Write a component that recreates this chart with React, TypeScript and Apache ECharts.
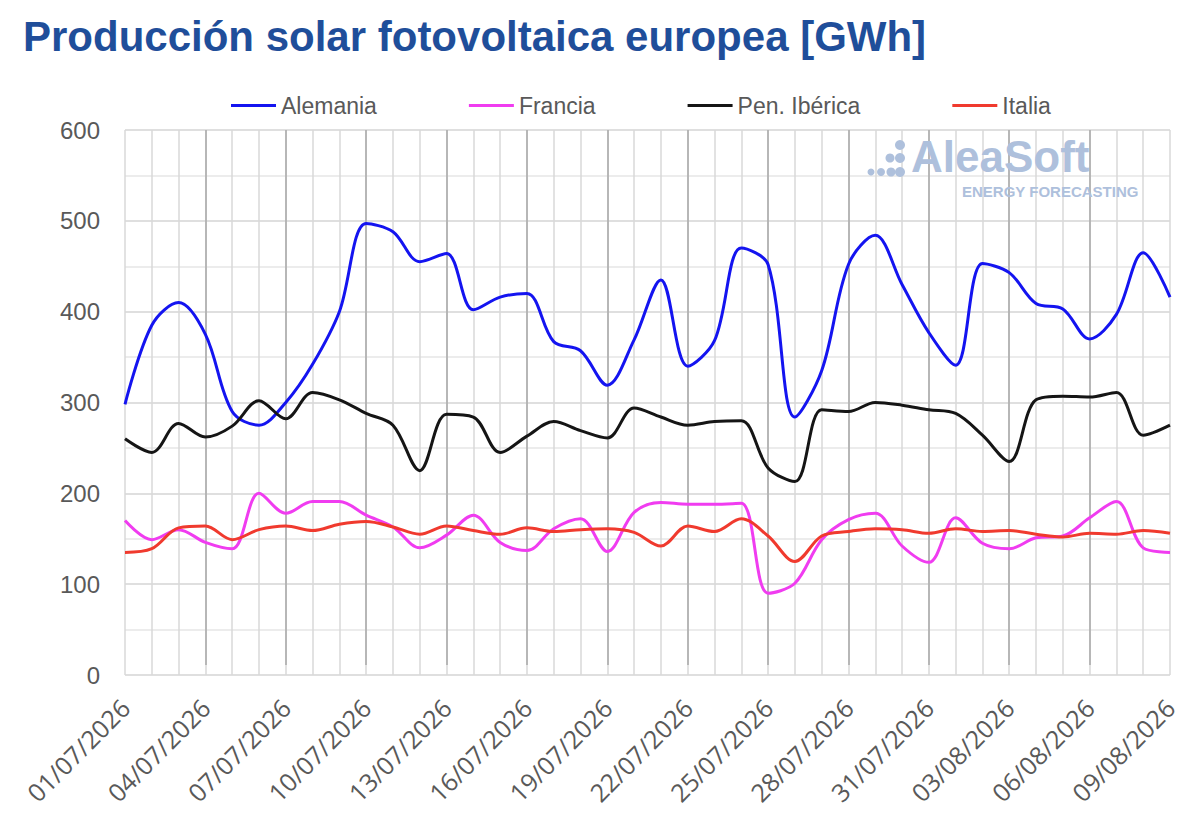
import React, { useEffect, useRef } from "react";
import * as echarts from "echarts";

const dates = [
  "01/07/2026", "02/07/2026", "03/07/2026", "04/07/2026", "05/07/2026", "06/07/2026", "07/07/2026", "08/07/2026",
  "09/07/2026", "10/07/2026", "11/07/2026", "12/07/2026", "13/07/2026", "14/07/2026", "15/07/2026", "16/07/2026",
  "17/07/2026", "18/07/2026", "19/07/2026", "20/07/2026", "21/07/2026", "22/07/2026", "23/07/2026", "24/07/2026",
  "25/07/2026", "26/07/2026", "27/07/2026", "28/07/2026", "29/07/2026", "30/07/2026", "31/07/2026", "01/08/2026",
  "02/08/2026", "03/08/2026", "04/08/2026", "05/08/2026", "06/08/2026", "07/08/2026", "08/08/2026", "09/08/2026",
];

const alemania = [298, 385, 410, 375, 290, 275, 300, 342, 400, 497, 488, 455, 464, 402, 416, 420, 367, 357, 319, 369,
  435, 340, 368, 470, 452, 284, 335, 452, 484, 430, 377, 341, 453, 443, 409, 403, 370, 397, 465, 416];
const francia = [170, 149, 160, 146, 139, 200, 178, 191, 191, 176, 163, 140, 154, 176, 146, 137, 161, 172, 136, 179,
  190, 188, 188, 189, 90, 101, 149, 171, 178, 142, 124, 173, 145, 139, 151, 153, 173, 191, 140, 135];
const penIberica = [260, 245, 277, 262, 274, 302, 282, 311, 303, 288, 275, 225, 287, 284, 245, 263, 279, 269, 261, 294,
  284, 275, 279, 280, 228, 213, 292, 290, 300, 297, 292, 288, 264, 235, 303, 307, 306, 311, 264, 275];
const italia = [135, 139, 162, 164, 149, 160, 164, 159, 166, 169, 163, 155, 164, 159, 155, 162, 158, 160, 161, 157,
  142, 164, 158, 172, 153, 125, 153, 158, 161, 160, 156, 161, 158, 159, 155, 152, 156, 155, 159, 156];

const seriesNames = ["Alemania", "Francia", "Pen. Ibérica", "Italia"];
const seriesColors = ["#1414F0", "#F03CF0", "#151515", "#F03A2E"];
const seriesData = [alemania, francia, penIberica, italia];

const TITLE = "Producción solar fotovoltaica europea [GWh]";

export default function App() {
  const ref = useRef<HTMLDivElement>(null);
  useEffect(() => {
    document.body.style.margin = "0";
    const chart = echarts.init(ref.current!, null, { renderer: "svg" });
    const wm = "#AEC0DC";
    chart.setOption({
      animation: false,
      backgroundColor: "#ffffff",
      title: {
        text: TITLE,
        left: 18,
        top: 10,
        textStyle: { fontFamily: "Liberation Sans", fontWeight: "bold", fontSize: 42, color: "#1F4E9A" },
      },
      legend: {
        left: 226,
        top: 89,
        itemWidth: 45,
        itemHeight: 3,
        itemGap: 92,
        icon: "rect",
        data: seriesNames,
        textStyle: { fontFamily: "Liberation Sans", fontSize: 23, color: "#595959" },
      },
      grid: [
        { left: 125, right: 30, top: 130, bottom: 164 },
        { left: 125, right: 30, top: 130, bottom: 174 },
      ],
      xAxis: [
        {
          type: "category",
          gridIndex: 0,
          data: dates,
          boundaryGap: false,
          axisLine: { show: false },
          axisTick: { show: false },
          axisLabel: {
            interval: 2,
            rotate: 45,
            margin: 28,
            fontSize: 25,
            fontFamily: "Open Sans",
            color: "#595959",
          },
          splitLine: { show: true, interval: 0, lineStyle: { color: "#D9D9D9", width: 1.5 } },
        },
        {
          type: "category",
          gridIndex: 1,
          data: dates,
          boundaryGap: false,
          axisLine: { show: false },
          axisTick: { show: false },
          axisLabel: { show: false },
          splitLine: {
            show: true,
            interval: (index: number) => index % 3 === 0 && index > 0 && index < dates.length - 1,
            lineStyle: { color: "#A8A8A8", width: 1.5 },
          },
        },
      ],
      yAxis: [
        {
          type: "value",
          gridIndex: 0,
          min: 0,
          max: 600,
          interval: 50,
          axisLine: { show: false },
          axisTick: { show: false },
          axisLabel: {
            formatter: (v: number) => (v % 100 === 0 ? String(v) : ""),
            fontSize: 24,
            fontFamily: "Liberation Sans",
            color: "#595959",
            margin: 25,
          },
          splitLine: { show: true, lineStyle: { color: ["#D4D4D4", "#E6E6E6"], width: 1.5 } },
        },
        { type: "value", gridIndex: 1, min: 0, max: 600, show: false },
      ],
      graphic: [
        { type: "circle", shape: { cx: 900, cy: 145, r: 5 }, style: { fill: wm }, z: 1 },
        { type: "circle", shape: { cx: 890, cy: 158, r: 4.5 }, style: { fill: wm }, z: 1 },
        { type: "circle", shape: { cx: 900, cy: 158, r: 5 }, style: { fill: wm }, z: 1 },
        { type: "circle", shape: { cx: 871, cy: 172, r: 3.5 }, style: { fill: wm }, z: 1 },
        { type: "circle", shape: { cx: 881, cy: 172, r: 4 }, style: { fill: wm }, z: 1 },
        { type: "circle", shape: { cx: 891, cy: 172, r: 4.5 }, style: { fill: wm }, z: 1 },
        { type: "circle", shape: { cx: 900, cy: 172, r: 5 }, style: { fill: wm }, z: 1 },
        {
          type: "text",
          x: 911,
          y: 134,
          z: 1,
          style: {
            text: "AleaSoft",
            font: 'bold 44px "Liberation Sans"',
            fill: wm,
            verticalAlign: "top",
          },
        },
        {
          type: "text",
          x: 962,
          y: 184,
          z: 1,
          style: { text: "ENERGY FORECASTING", font: 'bold 15px "Liberation Sans"', fill: wm, verticalAlign: "top" },
        },
      ],
      series: seriesNames.map((name, k) => ({
        name,
        type: "line",
        xAxisIndex: 0,
        yAxisIndex: 0,
        data: seriesData[k],
        smooth: 0.34,
        symbol: "none",
        color: seriesColors[k],
        lineStyle: { width: 3, color: seriesColors[k] },
        z: 3,
      })),
    });
    return () => chart.dispose();
  }, []);
  return <div ref={ref} style={{ width: 1200, height: 839 }} />;
}
